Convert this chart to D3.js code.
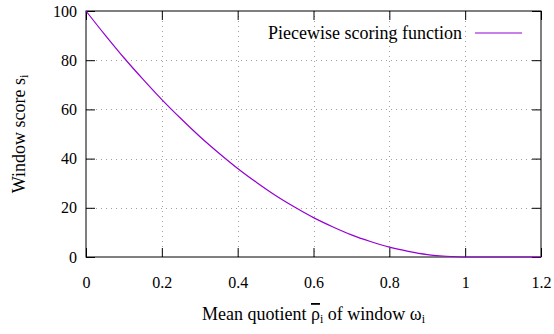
<!DOCTYPE html>
<html>
<head>
<meta charset="utf-8">
<script src="https://cdn.jsdelivr.net/npm/d3@7"></script>
<style>
  body { margin: 0; background: #fff; }
</style>
</head>
<body>
<div id="chart"></div>
<script>
// values
var quotient = [0, 0.05, 0.1, 0.15, 0.2, 0.25, 0.3, 0.35, 0.4, 0.45, 0.5,
    0.55, 0.6, 0.65, 0.7, 0.75, 0.8, 0.85, 0.9, 0.95, 1.0, 1.1, 1.2];
var score = [100, 90.3, 81, 72.3, 64, 56.3, 49, 42.3, 36, 30.3, 25,
    20.3, 16, 12.3, 9, 6.3, 4, 2.3, 1, 0.3, 0, 0, 0];
var xTicks = [0, 0.2, 0.4, 0.6, 0.8, 1, 1.2];
var yTicks = [0, 20, 40, 60, 80, 100];
var seriesName = 'Piecewise scoring function';

var width = 554, height = 334;
var margin = {top: 11, right: 13, bottom: 77, left: 86};
var color = '#9400d3';
var serif = "'Liberation Serif'";

var svg = d3.select('#chart').append('svg')
    .attr('width', width)
    .attr('height', height);

var x = d3.scaleLinear().domain([0, 1.2]).range([margin.left, width - margin.right]);
var y = d3.scaleLinear().domain([0, 100]).range([height - margin.bottom, margin.top]);

var tickFont = 16;
var labelFont = 18;
var subSize = 12;
var tickLen = 9;

// grid
var grid = svg.append('g')
    .attr('stroke', '#a0a0a0')
    .attr('stroke-width', 1)
    .attr('stroke-dasharray', '1,4');
xTicks.slice(1, -1).forEach(function(d) {
    grid.append('line')
        .attr('x1', Math.round(x(d)) + 0.5).attr('x2', Math.round(x(d)) + 0.5)
        .attr('y1', y(100)).attr('y2', y(0));
});
yTicks.slice(1, -1).forEach(function(d) {
    grid.append('line')
        .attr('x1', x(0)).attr('x2', x(1.2))
        .attr('y1', Math.round(y(d)) + 0.5).attr('y2', Math.round(y(d)) + 0.5);
});

// axes, ticks drawn inward on all four sides
var xAxisB = d3.axisBottom(x).tickValues(xTicks).tickSize(-tickLen).tickPadding(20)
    .tickFormat(d3.format('~g'));
var xAxisT = d3.axisTop(x).tickValues(xTicks).tickSize(-tickLen).tickFormat('');
var yAxisL = d3.axisLeft(y).tickValues(yTicks).tickSize(-tickLen).tickPadding(9);
var yAxisR = d3.axisRight(y).tickValues(yTicks).tickSize(-tickLen).tickFormat('');

function styleAxis(g) {
    g.select('.domain').remove();
    g.selectAll('.tick line').attr('stroke', '#000');
    g.selectAll('.tick text')
        .style('font-family', serif)
        .style('font-size', tickFont + 'px')
        .attr('fill', '#000');
}

svg.append('g').attr('transform', 'translate(0,' + y(0) + ')').call(xAxisB).call(styleAxis);
svg.append('g').attr('transform', 'translate(0,' + y(100) + ')').call(xAxisT).call(styleAxis);
svg.append('g').attr('transform', 'translate(' + x(0) + ',0)').call(yAxisL).call(styleAxis);
svg.append('g').attr('transform', 'translate(' + x(1.2) + ',0)').call(yAxisR).call(styleAxis);

// border
svg.append('rect')
    .attr('x', x(0)).attr('y', y(100))
    .attr('width', x(1.2) - x(0)).attr('height', y(0) - y(100))
    .attr('fill', 'none').attr('stroke', '#000').attr('stroke-width', 1);

// curve
var line = d3.line()
    .x(function(d, i) { return x(quotient[i]); })
    .y(function(d) { return y(d); })
    .curve(d3.curveMonotoneX);

svg.append('path')
    .datum(score)
    .attr('d', line)
    .attr('fill', 'none')
    .attr('stroke', color)
    .attr('stroke-width', 1.2);

// legend
var legY = 33;
svg.append('line')
    .attr('x1', 475).attr('x2', 522)
    .attr('y1', legY).attr('y2', legY)
    .attr('stroke', color).attr('stroke-width', 1.2);
svg.append('text')
    .attr('x', 462).attr('y', legY + 6)
    .attr('text-anchor', 'end')
    .style('font-family', serif)
    .style('font-size', labelFont + 'px')
    .text(seriesName);

// y label
var yl = svg.append('text')
    .attr('transform', 'translate(25,' + ((y(0) + y(100)) / 2) + ') rotate(-90)')
    .attr('text-anchor', 'middle')
    .style('font-family', serif)
    .style('font-size', labelFont + 'px');
yl.append('tspan').text('Window score s');
yl.append('tspan').style('font-size', subSize + 'px').attr('dy', 3).text('i');

// x label
var xl = svg.append('text')
    .attr('x', (x(0) + x(1.2)) / 2)
    .attr('y', 320)
    .attr('text-anchor', 'middle')
    .style('font-family', serif)
    .style('font-size', labelFont + 'px');
xl.append('tspan').text('Mean quotient ');
xl.append('tspan').style('text-decoration', 'overline').text('\u03C1');
xl.append('tspan').style('font-size', subSize + 'px').attr('dy', 3).text('i');
xl.append('tspan').attr('dy', -3).text(' of window \u03C9');
xl.append('tspan').style('font-size', subSize + 'px').attr('dy', 3).text('i');
</script>
</body>
</html>
